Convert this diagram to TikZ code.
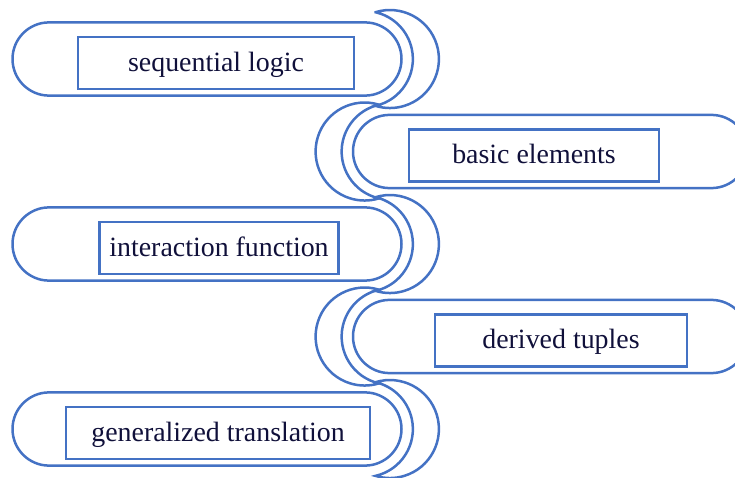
\documentclass[tikz,border=0pt]{standalone}
\usepackage{fontspec}
\setmainfont{Liberation Serif}
\usetikzlibrary{calc,positioning}
\definecolor{accent}{HTML}{4472C4}
\definecolor{inktext}{HTML}{10103A}
\tikzset{
  pill/.style={draw=accent, line width=2.5pt, rounded corners=36.6pt,
    minimum height=73.2pt, inner sep=0pt, outer sep=0pt},
  leftpill/.style={pill, minimum width=389pt},
  rightpill/.style={pill, minimum width=395pt},
  labelbox/.style={draw=accent, line width=2.5pt, minimum height=52pt,
    inner sep=0pt, text=inktext, font=\fontsize{27.9}{33}\selectfont,
    text depth=2pt},
  moon/.style={draw=accent, line width=2.5pt}
}

\begin{document}
\begin{tikzpicture}[x=1pt,y=1pt]
  \useasboundingbox (0,0) rectangle (735,477);
  \clip (0,0) rectangle (735,477);
  % rows hanging on the left, crescent on the right end
  \foreach \i/\y/\txt/\bx/\bw in {1/418/sequential logic/216/276pt,
      3/233/interaction function/219/239pt,
      5/48/generalized translation/218/304pt} {
    \node[leftpill] (pill\i) at (207,\y) {};
    \node[labelbox, minimum width=\bw] (lab\i) at (\bx,\y-3.8) {\txt};
    \draw[moon] ($(pill\i.east)+(-26,46.8)$)
      arc[start angle=107.1, end angle=-107.1, radius=49pt]
      arc[start angle=-77.2, end angle=77.2, radius=48pt] -- cycle;
  }
  % rows hanging on the right, crescent on the left end
  \foreach \i/\y/\txt/\bx/\bw in {2/325.5/basic elements/534/250pt,
      4/140.5/derived tuples/561/252pt} {
    \node[rightpill] (pill\i) at (550.5,\y) {};
    \node[labelbox, minimum width=\bw] (lab\i) at (\bx,\y-3.8) {\txt};
    \draw[moon] ($(pill\i.west)+(26,46.8)$)
      arc[start angle=72.9, end angle=287.1, radius=49pt]
      arc[start angle=257.2, end angle=102.8, radius=48pt] -- cycle;
  }
\end{tikzpicture}
\end{document}
